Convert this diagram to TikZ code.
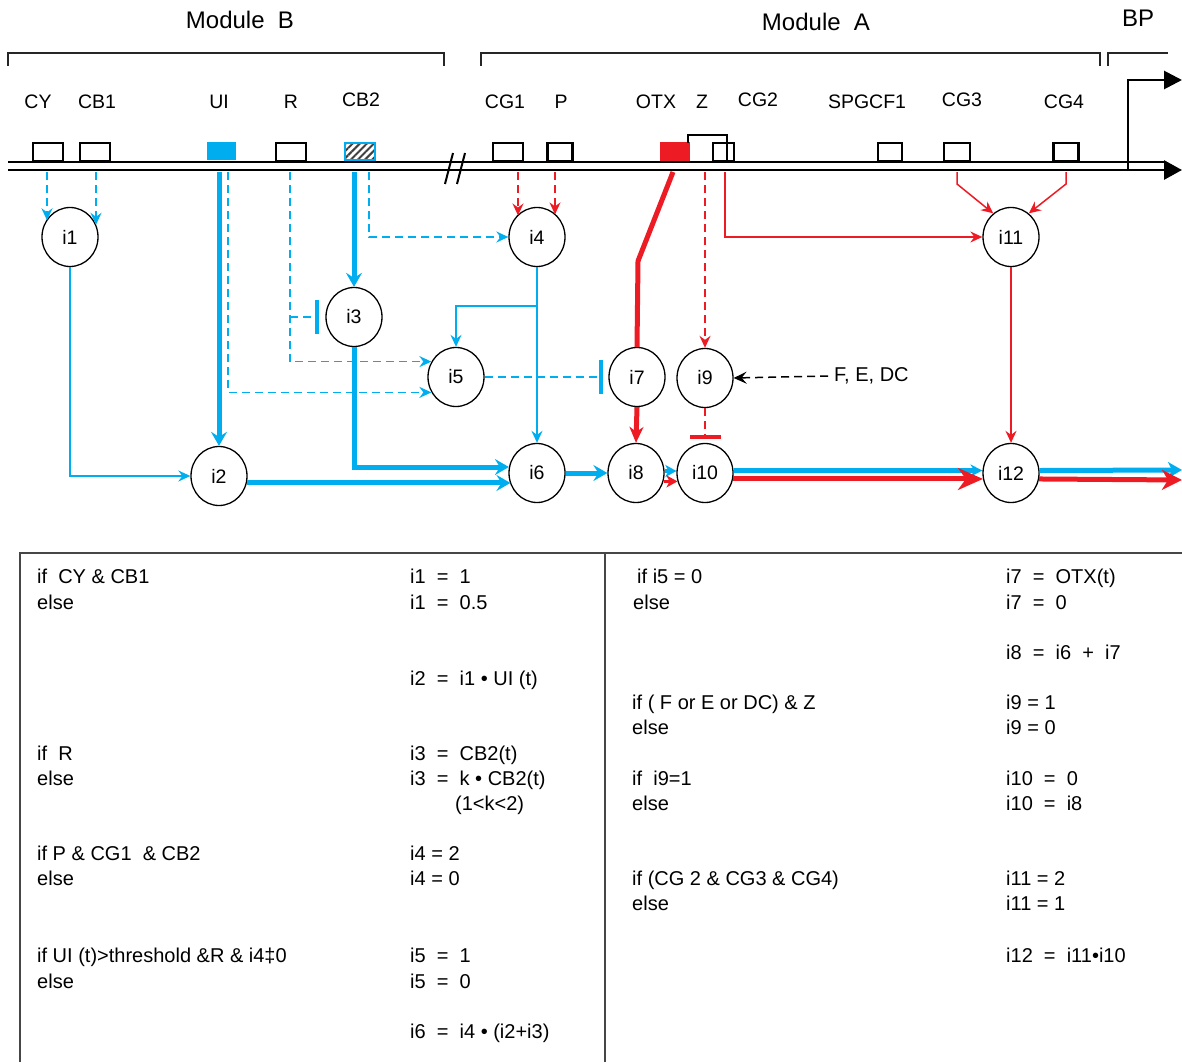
\documentclass[tikz,border=0pt]{standalone}
\usepackage{fontspec}
\setmainfont{Liberation Sans}
\usetikzlibrary{arrows.meta,shapes.geometric,patterns.meta,calc}
\definecolor{regcyan}{RGB}{0,174,239}
\definecolor{regred}{RGB}{237,28,36}
\definecolor{rulegray}{RGB}{70,70,70}
\begin{document}
\begin{tikzpicture}[
  x=1pt, y=-1pt,
  title/.style={font=\fontsize{24}{28}\selectfont, inner sep=0pt},
  lab/.style={font=\fontsize{19.5}{22}\selectfont, inner sep=0pt},
  gene/.style={draw=black, line width=2.8pt, minimum width=30pt, minimum height=18pt, inner sep=0pt},
  ctrl/.style={ellipse, draw=black, line width=1.3pt, minimum width=56pt, minimum height=59pt,
               inner sep=0pt, fill=white, font=\fontsize{19.5}{22}\selectfont},
  tab/.style={font=\fontsize{20}{24}\selectfont, anchor=base west, inner sep=0pt},
  bracketline/.style={draw=black!85, line width=1.3pt},
  dnaline/.style={draw=black, line width=2.8pt},
  thinc/.style={draw=regcyan, line width=1.5pt},
  thickc/.style={draw=regcyan, line width=5pt},
  cdashed/.style={draw=regcyan, line width=1.6pt, dash pattern=on 8pt off 5pt},
  thinr/.style={draw=regred, line width=1.5pt},
  thickr/.style={draw=regred, line width=5pt},
  rdashed/.style={draw=regred, line width=1.6pt, dash pattern=on 8pt off 5pt},
  kdashed/.style={draw=black, line width=1.5pt, dash pattern=on 8pt off 5pt},
  tipthin/.style={-{Stealth[length=12pt,width=11pt,inset=4pt]}},
  tipthick/.style={-{Stealth[length=14pt,width=16pt,inset=5pt]}},
  tipbig/.style={-{Stealth[length=25pt,width=22pt,inset=8pt]}},
  teecyan/.style={-{Bar[width=34pt,line width=4pt]}},
  teered/.style={-{Bar[width=31pt,line width=4pt]}},
]
\useasboundingbox (0,0) rectangle (1182,1062);

% ---------- module titles and brackets ----------
\node[title] (tB) at (240,20) {Module\ \ B};
\node[title] (tA) at (816,22) {Module\ \ A};
\node[title] (tBP) at (1138,18) {BP};
\draw[bracketline] (8,66) -- (8,53) -- (444,53) -- (444,66);
\draw[bracketline] (481,66) -- (481,53) -- (1100,53) -- (1100,66);
\draw[bracketline] (1108,66) -- (1108,53) -- (1168,53);

% ---------- site labels ----------
\node[lab] (lCY)  at (38,102)  {CY};
\node[lab] (lCB1) at (97,102)  {CB1};
\node[lab] (lUI)  at (219,102) {UI};
\node[lab] (lR)   at (291,102) {R};
\node[lab] (lCB2) at (361,100) {CB2};
\node[lab] (lCG1) at (505,102) {CG1};
\node[lab] (lP)   at (561,102) {P};
\node[lab] (lOTX) at (656,102) {OTX};
\node[lab] (lZ)   at (702,102) {Z};
\node[lab] (lCG2) at (758,100) {CG2};
\node[lab] (lSPG) at (867,102) {SPGCF1};
\node[lab] (lCG3) at (962,100) {CG3};
\node[lab] (lCG4) at (1064,102) {CG4};

% ---------- DNA ----------
\draw[dnaline] (8,162) -- (1166,162);
\draw[dnaline, -{Triangle[length=18pt,width=19pt]}] (8,170) -- (1182,170);
\draw[dnaline, -{Triangle[length=18pt,width=18pt]}] (1128,171) -- (1128,80) -- (1182,80);
% break marks
\draw[black, line width=2pt] (453,153) -- (445,184);
\draw[black, line width=2pt] (465,153) -- (457,184);

% ---------- binding sites ----------
\node[gene] (cy)  at (48,152)  {};
\node[gene] (cb1) at (95,152)  {};
\node[gene, draw=none, fill=regcyan, minimum width=29pt] (ui) at (221.5,151) {};
\node[gene] (r)   at (291,152) {};
\node[gene, draw=regcyan, line width=2pt, minimum height=17pt,
      pattern={Lines[angle=45,distance=5pt,line width=2pt]}, pattern color=black!75] (cb2) at (360,151) {};
\node[gene] (cg1) at (508,152) {};
\node[gene, minimum width=25pt] (p)   at (560,152) {};
\node[gene, draw=none, fill=regred, minimum height=19pt] (otx) at (675,151.5) {};
\node[gene, minimum width=21pt] (cg2) at (723.5,152) {};
\node[gene, minimum width=24pt] (spg) at (890,152) {};
\node[gene, minimum width=26pt] (cg3) at (957,152) {};
\node[gene, minimum width=25pt] (cg4) at (1066,152) {};
% Z site
\draw[black, line width=2pt] (688,143) -- (688,135) -- (727,135) -- (727,162);

% ---------- connector start points below the DNA ----------
\coordinate (cyd)    at (47,172);
\coordinate (cb1d)   at (96,172);
\coordinate (uid)    at (219,172);
\coordinate (uidash) at (228,172);
\coordinate (rd)     at (290,172);
\coordinate (cb2d)   at (354,172);
\coordinate (cb2dash) at (369,172);
\coordinate (cg1d)   at (518,172);
\coordinate (pd)     at (555,172);
\coordinate (otxd)   at (673,172);
\coordinate (otxk)   at (638,261);
\coordinate (zd)     at (705,172);
\coordinate (cg2d)   at (725,172);
\coordinate (cg3d)   at (957,172);
\coordinate (cg3k)   at (957,184);
\coordinate (cg4d)   at (1066,172);
\coordinate (cg4k)   at (1066,184);
\coordinate (outc)   at (1182,470);
\coordinate (outr)   at (1182,480);

% ---------- control nodes ----------
\node[ctrl] (i1)  at (70,237)  {i1};
\node[ctrl] (i2)  at (219,476) {i2};
\node[ctrl] (i3)  at (354,317) {i3};
\node[ctrl] (i4)  at (537,237) {i4};
\node[ctrl] (i5)  at (456,377) {i5};
\node[ctrl] (i6)  at (537,473) {i6};
\node[ctrl] (i7)  at (637,377) {i7};
\node[ctrl] (i8)  at (636,473) {i8};
\node[ctrl] (i9)  at (705,378) {i9};
\node[ctrl] (i10) at (705,473) {i10};
\node[ctrl] (i11) at (1011,237) {i11};
\node[ctrl] (i12) at (1011,473) {i12};
\node[lab, anchor=west, font=\fontsize{20}{24}\selectfont] (fed) at (834,376) {F, E, DC};

% ---------- module B connections ----------
\draw[cdashed, tipthin] (cyd) -- (cyd |- i1.145);
\draw[cdashed, tipthin] (cb1d) -- (cb1d |- i1.25);
\draw[thickc, tipthick] (uid) -- (i2.north);
\draw[cdashed, tipthin] (uidash) |- (i5.212);
\draw[cdashed, tipthin] (rd) |- (i5.148);
\draw[cdashed, teecyan, shorten >=6pt] (rd |- i3.west) -- (i3.west);
\draw[thickc, tipthick] (cb2d) -- (i3.north);
\draw[cdashed, tipthin] (cb2dash) |- (i4.west);
\draw[thickc, tipthick] (i3.south) |- (i6.168);
\draw[thickc, tipthick] (i2.-14) -- (i2.-14 -| i6.203);
\draw[thinc, tipthin] (i1.south) |- (i2.west);
\draw[rdashed, tipthin] (cg1d) -- (cg1d |- i4.133);
\draw[rdashed, tipthin] (pd) -- (pd |- i4.50);
\draw[thinc, tipthin] (i4.south) -- (i6.north);
\draw[thinc, tipthin] ($(i4.south)!0.22!(i6.north)$) -| (i5.north);
\draw[cdashed, teecyan, shorten >=5pt] (i5.east) -- (i5.east -| i7.west);

% ---------- module A connections ----------
\draw[thickc, tipthick] (i6.east) -- (i8.west);
\draw[thickr, line join=round] (otxd) -- (otxk) -- (i7.north);
\draw[thickr, -{Stealth[length=16pt,width=14pt,inset=5pt]}] (i7.south) -- (i8.north);
\draw[rdashed, tipthin] (zd) -- (i9.north);
\draw[thinr, tipthin] (cg2d) |- (i11.west);
\draw[thinr, tipthin] (cg3d) -- (cg3k) -- (i11.127);
\draw[thinr, tipthin] (cg4d) -- (cg4k) -- (i11.53);
\draw[thinr, tipthin] (i11.south) -- (i12.north);
\draw[rdashed, teered, shorten >=4pt] (i9.south) -- (i10.north);
\draw[kdashed, -{Stealth[length=13pt,width=12pt,inset=5pt]}] ([xshift=-6pt]fed.west) -- (i9.east);

\draw[draw=regcyan, line width=3.5pt, -{Stealth[length=11pt,width=12pt,inset=3pt]}] (i8.4) -- (i10.176);
\draw[draw=regred, line width=3.5pt, -{Stealth[length=11pt,width=12pt,inset=3pt]}] (i8.-17) -- (i10.-163);
\draw[draw=regcyan, line width=5pt, -{Stealth[length=12pt,width=12pt,inset=4pt]}] (i10.5) -- (i12.175);
\draw[thickr, tipbig] (i10.-12) -- (i12.-168);
\draw[draw=regcyan, line width=5pt, -{Stealth[length=14pt,width=16pt,inset=4pt]}] (i12.5) -- (outc);
\draw[thickr, -{Stealth[length=20pt,width=20pt,inset=6pt]}] (i12.-12) -- (outr);

% ---------- rule table ----------
\draw[draw=rulegray, line width=1.8pt] (20,1062) -- (20,553) -- (1182,553);
\draw[draw=rulegray, line width=1.8pt] (605,553) -- (605,1062);

\node[tab] (a1)  at (37,583)  {if\ \ CY \& CB1};
\node[tab] (b1)  at (410,583) {i1\ \ =\ \ 1};
\node[tab] (a2)  at (37,609)  {else};
\node[tab] (b2)  at (410,609) {i1\ \ =\ \ 0.5};
\node[tab] (b3)  at (410,685) {i2\ \ =\ \ i1 • UI (t)};
\node[tab] (a4)  at (37,760)  {if\ \ R};
\node[tab] (b4)  at (410,760) {i3\ \ =\ \ CB2(t)};
\node[tab] (a5)  at (37,785)  {else};
\node[tab] (b5)  at (410,785) {i3\ \ =\ \ k • CB2(t)};
\node[tab] (b6)  at (455,810) {(1<k<2)};
\node[tab] (a7)  at (37,860)  {if P \& CG1\ \ \& CB2};
\node[tab] (b7)  at (410,860) {i4 = 2};
\node[tab] (a8)  at (37,885)  {else};
\node[tab] (b8)  at (410,885) {i4 = 0};
\node[tab] (a9)  at (37,962)  {if UI (t)>threshold \&R \& i4‡0};
\node[tab] (b9)  at (410,962) {i5\ \ =\ \ 1};
\node[tab] (a10) at (37,988)  {else};
\node[tab] (b10) at (410,988) {i5\ \ =\ \ 0};
\node[tab] (b11) at (410,1038) {i6\ \ =\ \ i4 • (i2+i3)};

\node[tab] (c1)  at (637,583)  {if i5 = 0};
\node[tab] (d1)  at (1006,583) {i7\ \ =\ \ OTX(t)};
\node[tab] (c2)  at (633,609)  {else};
\node[tab] (d2)  at (1006,609) {i7\ \ =\ \ 0};
\node[tab] (d3)  at (1006,659) {i8\ \ =\ \ i6\ \ +\ \ i7};
\node[tab] (c4)  at (632,709)  {if ( F or E or DC) \& Z};
\node[tab] (d4)  at (1006,709) {i9 = 1};
\node[tab] (c5)  at (632,734)  {else};
\node[tab] (d5)  at (1006,734) {i9 = 0};
\node[tab] (c6)  at (632,785)  {if\ \ i9=1};
\node[tab] (d6)  at (1006,785) {i10\ \ =\ \ 0};
\node[tab] (c7)  at (632,810)  {else};
\node[tab] (d7)  at (1006,810) {i10\ \ =\ \ i8};
\node[tab] (c8)  at (632,885)  {if (CG 2 \& CG3 \& CG4)};
\node[tab] (d8)  at (1006,885) {i11 = 2};
\node[tab] (c9)  at (632,910)  {else};
\node[tab] (d9)  at (1006,910) {i11 = 1};
\node[tab] (d10) at (1006,962) {i12\ \ =\ \ i11•i10};
\end{tikzpicture}
\end{document}
